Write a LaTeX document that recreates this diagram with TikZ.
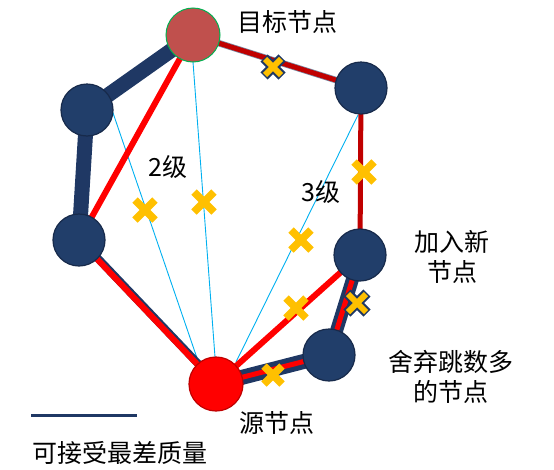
\documentclass[tikz,border=0pt]{standalone}
\usepackage{fontspec}
\setmainfont{Noto Sans CJK SC}
\usetikzlibrary{positioning}
\definecolor{navy}{RGB}{31,56,100}
\definecolor{ballblue}{RGB}{33,62,106}
\definecolor{darkred}{RGB}{192,0,0}
\definecolor{brickred}{RGB}{192,80,77}
\definecolor{skyline}{RGB}{0,176,240}
\definecolor{amber}{RGB}{255,192,0}
\definecolor{leafgreen}{RGB}{0,176,80}
\tikzset{
  ball/.style={circle, inner sep=0pt, minimum size=#1},
  hopnode/.style={ball=52pt, fill=ballblue, draw=navy!75!black, line width=1.2pt},
  label/.style={font=\fontsize{25}{30}\selectfont, align=center, inner sep=0pt},
  thinlink/.style={skyline, line width=0.9pt},
  qualband/.style={navy, line width=#1},
  redlink/.style={red, line width=6pt},
}
% cross mark: #1 = centre, #2 = half size
\newcommand{\crossmark}[2]{%
  \begin{scope}[shift={(#1)}]
    \draw[amber, line width=7.5pt] (-#2,-#2) -- (#2,#2) (-#2,#2) -- (#2,-#2);
  \end{scope}}
\newcommand{\framedcross}[2]{%
  \begin{scope}[shift={(#1)}]
    \draw[navy, line width=10pt] (-#2-1,-#2-1) -- (#2+1,#2+1) (-#2-1,#2+1) -- (#2+1,-#2-1);
    \draw[amber, line width=6pt] (-#2,-#2) -- (#2,#2) (-#2,#2) -- (#2,-#2);
  \end{scope}}

\begin{document}
\begin{tikzpicture}[x=1pt,y=-1pt]
        \useasboundingbox (0,0) rectangle (554,469);
        \coordinate (T) at (193,35);
        \coordinate (N1) at (87,110);
        \coordinate (N2) at (79,240);
        \coordinate (N3) at (361,88);
        \coordinate (N4) at (360,255);
        \coordinate (N5) at (329,355);
        \coordinate (S) at (216,384);
        %Thin links
        \draw[thinlink] (112,110) -- (197,358);
        \draw[thinlink] (193,62) -- (215,357);
        \draw[thinlink] (358,115) -- (236,362);
        %Acceptable quality links
        \draw[qualband=15pt] (T) -- (N1) -- (N2);
        \draw[qualband=15pt] (S) -- (N5);
        \draw[qualband=13pt] (N5) -- (N4);
        \draw[red, line width=5pt] (S) -- (N5) -- (N4);
        %Red links
        \draw[navy, line width=8pt] ([yshift=1.5pt]N2) -- ([yshift=1.5pt]S);
        \draw[redlink] (N2) -- (S);
        \draw[redlink] (N2) -- (T);
        \draw[redlink] (S) -- (N4);
        \draw[darkred, line width=5pt] (N3) -- (N4);
        \draw[navy!60, line width=6.5pt] (T) -- (N3);
        \draw[darkred, line width=5pt] (T) -- (N3);
        %Draw nodes
        \node[ball=54pt, fill=brickred, draw=leafgreen, line width=1pt] (target) at (T) {};
        \node[hopnode] (hop1) at (N1) {};
        \node[hopnode] (hop2) at (N2) {};
        \node[hopnode] (hop3) at (N3) {};
        \node[hopnode] (hop4) at (N4) {};
        \node[hopnode] (hop5) at (N5) {};
        \node[ball=54pt, fill=red, draw=red!75!black, line width=1.2pt] (source) at (S) {};
        %Cross marks
        \crossmark{145,210}{10}
        \crossmark{204,202}{10}
        \crossmark{301,240}{10}
        \crossmark{296,308}{10}
        \crossmark{364,172}{10}
        \crossmark{273,375}{9}
        \framedcross{273,67}{8}
        \framedcross{357,303}{9}
        %Labels
        \node[label] (targetlabel) at (287,22) {目标节点};
        \node[label] (lv2) at (168,167) {2级};
        \node[label] (lv3) at (321,192) {3级};
        \node[label] (addlabel) at (452,257) {加入新\\节点};
        \node[label] (droplabel) at (451,377) {舍弃跳数多\\的节点};
        \node[label] (sourcelabel) at (277,423) {源节点};
        %Legend
        \coordinate (legA) at (31,415);
        \coordinate (legB) at (137,415);
        \draw[navy, line width=3pt] (legA) -- (legB);
        \node[label] (legendlabel) at (120,453) {可接受最差质量};
      \end{tikzpicture}
\end{document}
